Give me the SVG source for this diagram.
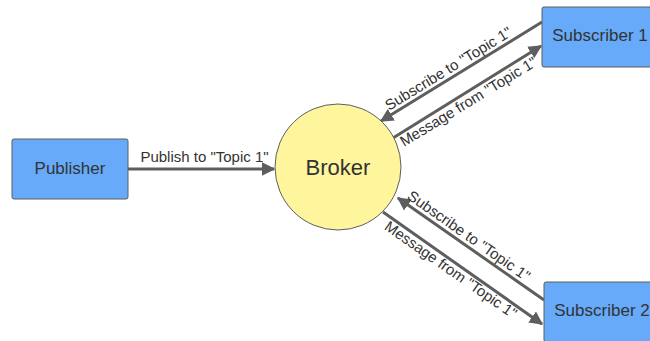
<svg xmlns="http://www.w3.org/2000/svg" width="650" height="341" viewBox="0 0 650 341">
  <style>
    .box { fill: #66aaf9; stroke: #5e5e5e; stroke-width: 1; }
    .hub { fill: #fff59d; stroke: #5e5e5e; stroke-width: 1; }
    .node-text { font-family: "Liberation Sans", Arial, sans-serif; font-size: 17px; fill: #333333; text-anchor: middle; dominant-baseline: central; }
    .hub-text { font-family: "Liberation Sans", Arial, sans-serif; font-size: 22px; fill: #333333; text-anchor: middle; dominant-baseline: central; }
    .edge { stroke: #5e5e5e; stroke-width: 3; fill: none; marker-end: url(#arrow); }
    .label { font-family: "Liberation Sans", Arial, sans-serif; font-size: 15px; fill: #333333; text-anchor: middle; }
  </style>
  <defs>
    <marker id="arrow" viewBox="0 0 10 10" refX="9" refY="5" markerWidth="4.5" markerHeight="4.5" orient="auto" markerUnits="strokeWidth">
      <path d="M0,0 L10,5 L0,10 z" fill="#5e5e5e"/>
    </marker>
  </defs>
  <rect width="650" height="341" fill="#ffffff"/>

  <g id="connectors">
    <line class="edge" x1="128" y1="169" x2="274" y2="169"/>
    <line class="edge" x1="542" y1="22" x2="381" y2="121"/>
    <line class="edge" x1="393" y1="138" x2="541" y2="46"/>
    <line class="edge" x1="544" y1="300" x2="398" y2="198"/>
    <line class="edge" x1="383" y1="212" x2="542" y2="324"/>
    <text class="label" x="204.5" y="162">Publish to "Topic 1"</text>
    <text class="label" transform="translate(451,73) rotate(-31.5)">Subscribe to "Topic 1"</text>
    <text class="label" transform="translate(471,106) rotate(-31.5)">Message from "Topic 1"</text>
    <text class="label" transform="translate(466,240) rotate(35)">Subscribe to "Topic 1"</text>
    <text class="label" transform="translate(448,274) rotate(35)">Message from "Topic 1"</text>
  </g>

  <g id="publisher">
    <rect class="box" x="12" y="139" width="116" height="60" rx="2"/>
    <text class="node-text" x="70" y="168">Publisher</text>
  </g>

  <g id="broker">
    <circle class="hub" cx="338" cy="167" r="63"/>
    <text class="hub-text" x="338" y="167">Broker</text>
  </g>

  <g id="subscriber-1">
    <rect class="box" x="542" y="7" width="116" height="60" rx="2"/>
    <text class="node-text" x="600" y="35">Subscriber 1</text>
  </g>

  <g id="subscriber-2">
    <rect class="box" x="544" y="282" width="116" height="60" rx="2"/>
    <text class="node-text" x="602" y="310">Subscriber 2</text>
  </g>
</svg>
